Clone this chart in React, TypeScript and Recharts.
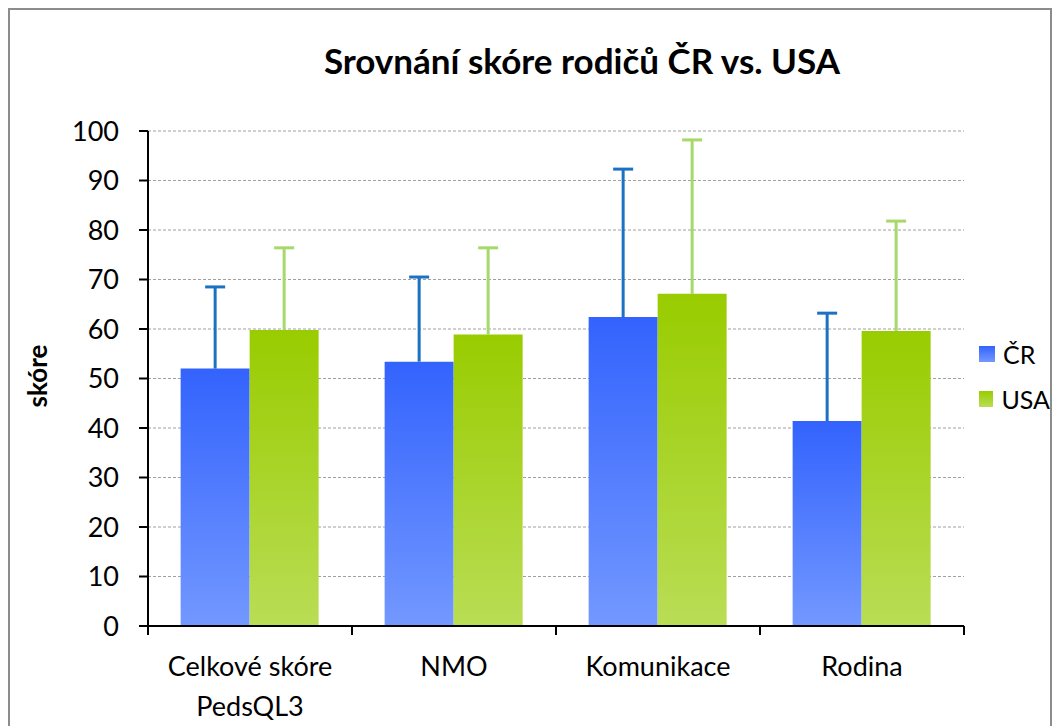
import React from "react";
import {
  BarChart,
  Bar,
  XAxis,
  YAxis,
  CartesianGrid,
  ErrorBar,
  Legend,
} from "recharts";

const categories = ["Celkové skóre\nPedsQL3", "NMO", "Komunikace", "Rodina"];
const crValues = [52.0, 53.4, 62.4, 41.4];
const usaValues = [59.8, 58.9, 67.1, 59.6];
const crSd = [16.5, 17.1, 29.9, 21.8];
const usaSd = [16.6, 17.5, 31.1, 22.2];
const yTicks = [0, 10, 20, 30, 40, 50, 60, 70, 80, 90, 100];
const seriesNames = ["ČR", "USA"];

const FONT = "Lato, 'Open Sans', sans-serif";

const rows = categories.map((name, i) => ({
  name,
  cr: crValues[i],
  usa: usaValues[i],
  crErr: [0, crSd[i]],
  usaErr: [0, usaSd[i]],
}));

// category label plus tick marks at the band edges
function CategoryTick({ x, y, payload, index }: any) {
  const lines = String(payload.value).split("\n");
  const half = payload.offset || 102;
  const top = y - 8;
  return (
    <g>
      <line x1={x - half} y1={top} x2={x - half} y2={top + 9} stroke="#000" strokeWidth={2} />
      {index === categories.length - 1 && (
        <line x1={x + half} y1={top} x2={x + half} y2={top + 9} stroke="#000" strokeWidth={2} />
      )}
      <text x={x} y={y + 42} textAnchor="middle" fill="#000" fontSize={27} fontFamily={FONT}>
        {lines.map((l, i) => (
          <tspan key={i} x={x} dy={i === 0 ? 0 : 40}>
            {l}
          </tspan>
        ))}
      </text>
    </g>
  );
}

function LegendBox() {
  return (
    <div style={{ fontFamily: FONT, fontSize: 25 }}>
      {seriesNames.map((n) => (
        <div key={n} style={{ display: "flex", alignItems: "center", height: 45 }}>
          <span
            style={{
              width: 16,
              height: 16,
              marginRight: 8,
              background: n === "ČR" ? "linear-gradient(#3363fd,#7398ff)" : "linear-gradient(#99cc00,#b9dd55)",
            }}
          />
          <span>{n}</span>
        </div>
      ))}
    </div>
  );
}

export default function App() {
  return (
    <div
      style={{
        width: 1040,
        height: 740,
        border: "2px solid #8c8c8c",
        position: "relative",
        background: "#fff",
      }}
    >
      <style>{`.recharts-errorBar line:nth-of-type(3){display:none}`}</style>
      <div
        style={{
          position: "absolute",
          top: 29,
          left: 0,
          width: 1144,
          textAlign: "center",
          fontFamily: FONT,
          fontWeight: 700,
          fontSize: 35,
        }}
      >
        Srovnání skóre rodičů ČR vs. USA
      </div>
      <div
        style={{
          position: "absolute",
          left: 27,
          top: 366,
          transform: "translate(-50%, -50%) rotate(-90deg)",
          fontFamily: FONT,
          fontWeight: 700,
          fontSize: 26,
        }}
      >
        skóre
      </div>
      <BarChart
        width={1040}
        height={730}
        data={rows}
        margin={{ top: 121, right: 15, bottom: 44, left: 50 }}
        barCategoryGap="16%"
        barGap={0}
      >
        <defs>
          <linearGradient id="gCr" x1="0" y1="0" x2="0" y2="1">
            <stop offset="0%" stopColor="#3363fd" />
            <stop offset="100%" stopColor="#7398ff" />
          </linearGradient>
          <linearGradient id="gUsa" x1="0" y1="0" x2="0" y2="1">
            <stop offset="0%" stopColor="#99cc00" />
            <stop offset="100%" stopColor="#b9dd55" />
          </linearGradient>
        </defs>
        <CartesianGrid vertical={false} stroke="#a0a0a0" strokeDasharray="3 2" />
        <XAxis
          dataKey="name"
          interval={0}
          tick={<CategoryTick />}
          tickLine={false}
          axisLine={{ stroke: "#000", strokeWidth: 2 }}
          height={70}
        />
        <YAxis
          domain={[0, 100]}
          ticks={yTicks}
          width={88}
          tick={{ fill: "#000", fontSize: 27, fontFamily: FONT }}
          tickLine={{ stroke: "#000", strokeWidth: 2 }}
          tickSize={9}
          tickMargin={20}
          axisLine={{ stroke: "#000", strokeWidth: 2 }}
        />
        <Legend
          layout="vertical"
          align="right"
          verticalAlign="middle"
          content={<LegendBox />}
          wrapperStyle={{ right: 0, left: 969, top: 321 }}
        />
        <Bar dataKey="cr" name="ČR" fill="url(#gCr)" isAnimationActive={false}>
          <ErrorBar dataKey="crErr" width={10} stroke="#1c72c2" strokeWidth={3} direction="y" />
        </Bar>
        <Bar dataKey="usa" name="USA" fill="url(#gUsa)" isAnimationActive={false}>
          <ErrorBar dataKey="usaErr" width={10} stroke="#a6d96a" strokeWidth={3} direction="y" />
        </Bar>
      </BarChart>
    </div>
  );
}
